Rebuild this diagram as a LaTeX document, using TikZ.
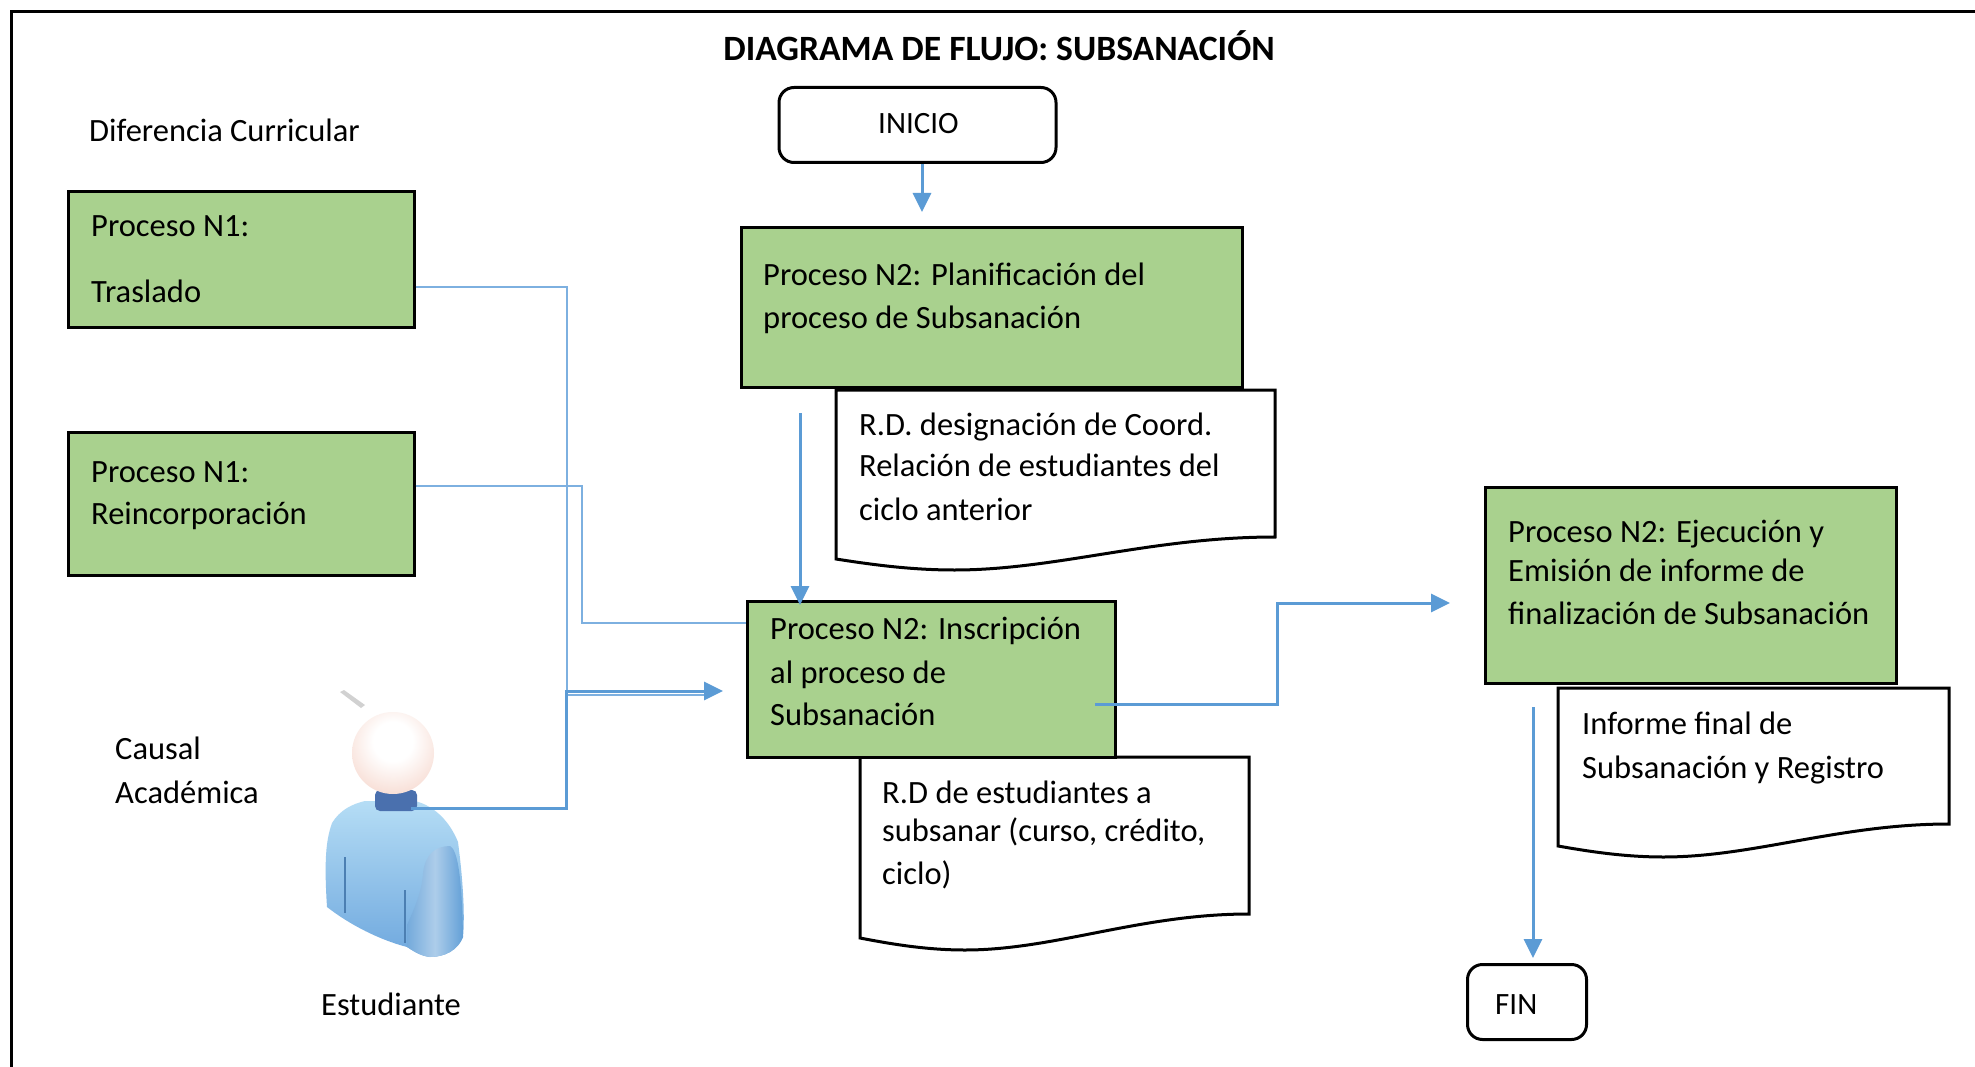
\documentclass[tikz,border=0pt]{standalone}
\usepackage{fontspec}
\setmainfont{Carlito}
\usetikzlibrary{arrows.meta,calc}
\definecolor{boxgreen}{HTML}{A9D18E}
\definecolor{linkblue}{HTML}{5B9BD5}
\definecolor{thinblue}{HTML}{7DB0E0}
\definecolor{bodytop}{HTML}{B5DDF5}
\definecolor{bodybot}{HTML}{6FA8DE}
\definecolor{neckblue}{HTML}{4A70AE}
\definecolor{foldblue}{HTML}{4C7FB2}
\definecolor{headmid}{HTML}{F8E0D8}
\definecolor{headrim}{HTML}{EDC4B8}
\definecolor{headlow}{HTML}{F2B88E}
\pgfdeclareradialshading{headball}{\pgfpoint{0bp}{8bp}}{%
  color(0bp)=(white); color(12bp)=(white); color(30bp)=(headmid);
  color(42bp)=(headrim); color(54bp)=(headlow); color(100bp)=(headlow)}
\tikzset{
  procbox/.style={draw=black,line width=3pt,fill=boxgreen,inner sep=0pt},
  termbox/.style={draw=black,line width=3pt,fill=white,rounded corners=15pt,inner sep=0pt},
  docline/.style={draw=black,line width=3pt,fill=white,line join=miter},
  label/.style={inner sep=0pt,anchor=base west,align=left,yshift=-2pt,font=\fontsize{32.5}{42}\selectfont},
  thinlink/.style={draw=thinblue,line width=1.6pt},
  link/.style={draw=linkblue,line width=3pt},
  arrowlink/.style={link,-{Triangle[length=19pt,width=18pt]}},
}
% document shape: x0, ytop, x1, yleft, yright
\newcommand{\docshape}[5]{%
  \pgfmathsetmacro{\dw}{#3-#1}%
  \pgfmathsetmacro{\dd}{#4-#5}%
  \draw[docline] (#1,#4) -- (#1,#2) -- (#3,#2) -- (#3,#5)
    .. controls ({#1+.72*\dw},{#5}) and ({#1+.50*\dw},{#4+.5*\dd}) .. ({#1+.27*\dw},{#4+.5*\dd})
    .. controls ({#1+.17*\dw},{#4+.5*\dd}) and ({#1+.08*\dw},{#4+.25*\dd}) .. (#1,#4) -- cycle;
}
\begin{document}
\begin{tikzpicture}[x=1pt,y=-1pt]
\useasboundingbox (0,0) rectangle (1975,1067);
\fill[white] (0,0) rectangle (1975,1067);
\draw[black,line width=3pt] (11,1067) -- (11,12) -- (1975,12);

% title
\node[inner sep=0pt,font=\fontsize{35.6}{40}\selectfont\bfseries] (title) at (999,46) {DIAGRAMA DE FLUJO: SUBSANACIÓN};

% document shapes
\docshape{836}{390}{1275}{559}{537}
\docshape{860}{757}{1249}{938}{914}
\docshape{1558}{688}{1949}{846}{824}

% boxes
\node[termbox,minimum width=277pt,minimum height=75pt] (inicio) at (917.5,125) {};
\node[procbox,minimum width=346pt,minimum height=136pt] (tras) at (241,259.5) {};
\node[procbox,minimum width=346pt,minimum height=143pt] (rein) at (241,503.5) {};
\node[procbox,minimum width=501pt,minimum height=160pt] (plan) at (991.5,307.5) {};
\node[procbox,minimum width=368pt,minimum height=156pt] (insc) at (931,679) {};
\node[procbox,minimum width=411pt,minimum height=196pt] (ejec) at (1690.5,585) {};
\node[termbox,minimum width=119pt,minimum height=75pt] (fin) at (1527,1002) {};

% student icon
\fill[black!18] (340,692) -- (344,690) -- (365,705) -- (361,708) -- cycle;
\path[top color=bodytop,bottom color=bodybot,draw=none]
  (327,907) .. controls (324,860) and (326,840) .. (332,823)
  .. controls (340,810) and (352,804) .. (365,801)
  -- (415,801) .. controls (435,806) and (450,822) .. (458,842)
  .. controls (463,880) and (465,915) .. (463,937)
  .. controls (458,950) and (445,957) .. (430,957)
  .. controls (420,956) and (412,950) .. (407,947)
  .. controls (380,940) and (350,925) .. (327,907) -- cycle;
\path[left color=linkblue!85!white,right color=linkblue!95!white,middle color=linkblue!50!white,draw=none]
  (423,873) .. controls (425,855) and (435,846) .. (450,846)
  .. controls (458,850) and (462,880) .. (463,937)
  .. controls (458,950) and (445,957) .. (430,957)
  .. controls (420,956) and (412,950) .. (407,947)
  -- (407,925) .. controls (416,905) and (422,890) .. (423,873) -- cycle;
\draw[foldblue,line width=1.3pt] (345,857) -- (345,913);
\draw[foldblue,line width=1.3pt] (405,890) -- (405,943);
\fill[neckblue,rounded corners=5pt] (375,790) rectangle (417,811);
\shade[shading=headball] (393,753) circle (41pt);

% texts
\node[label] (t1) at (89,140) {Diferencia Curricular};
\node[label] (t2) at (91,235) {Proceso N1:};
\node[label] (t2b) at (91,300) {Traslado};
\node[label] (t3) at (91,480) {Proceso N1:};
\node[label] (t3b) at (91,522) {Reincorporación};
\node[label] (t4) at (115,757) {Causal};
\node[label] (t4b) at (115,801) {Académica};
\node[label] (t5) at (321,1013) {Estudiante};
\node[label,font=\fontsize{31}{42}\selectfont] (t6) at (878,132) {INICIO};
\node[label] (t7) at (763,284) {Proceso N2: Planificación del};
\node[label] (t7b) at (763,326) {proceso de Subsanación};
\node[label] (t8) at (859,433) {R.D. designación de Coord.};
\node[label] (t8b) at (859,474) {Relación de estudiantes del};
\node[label] (t8c) at (859,518) {ciclo anterior};
\node[label] (t9) at (770,637) {Proceso N2: Inscripción};
\node[label] (t9b) at (770,681) {al proceso de};
\node[label] (t9c) at (770,723) {Subsanación};
\node[label] (t10) at (882,801) {R.D de estudiantes a};
\node[label] (t10b) at (882,839) {subsanar (curso, crédito,};
\node[label] (t10c) at (882,882) {ciclo)};
\node[label] (t11) at (1508,540) {Proceso N2: Ejecución y};
\node[label] (t11b) at (1508,579) {Emisión de informe de};
\node[label] (t11c) at (1508,622) {finalización de Subsanación};
\node[label] (t12) at (1582,732) {Informe final de};
\node[label] (t12b) at (1582,776) {Subsanación y Registro};
\node[label,font=\fontsize{31}{42}\selectfont] (t13) at (1495,1012) {FIN};

% connector waypoints
\coordinate (a1) at (922,212);
\coordinate (a2s) at (800,413);
\coordinate (a2e) at (800,605);
\coordinate (a3s) at (1095,704);
\coordinate (a3m) at (1277,704);
\coordinate (a3n) at (1277,603);
\coordinate (a3e) at (1450,603);
\coordinate (a4s) at (1533,707);
\coordinate (a4e) at (1533,958);
\coordinate (b1) at (567,287);
\coordinate (b2) at (567,695);
\coordinate (b3) at (712,695);
\coordinate (c1) at (582,486);
\coordinate (c2) at (582,623);
\coordinate (d0) at (411,808);
\coordinate (d1) at (566,808);
\coordinate (d2) at (566,691);
\coordinate (d3) at (723,691);

% connectors
\draw[thinlink] (tras.east |- b1) -- (b1) -- (b2) -- (b3);
\draw[thinlink] (rein.east |- c1) -- (c1) -- (c2) -- (insc.west |- c2);
\draw[arrowlink] (d0) -- (d1) -- (d2) -- (d3);
\draw[arrowlink] (inicio.south -| a1) -- (a1);
\draw[arrowlink] (a2s) -- (a2e);
\draw[arrowlink] (a3s) -- (a3m) -- (a3n) -- (a3e);
\draw[arrowlink] (a4s) -- (a4e);
\end{tikzpicture}
\end{document}
